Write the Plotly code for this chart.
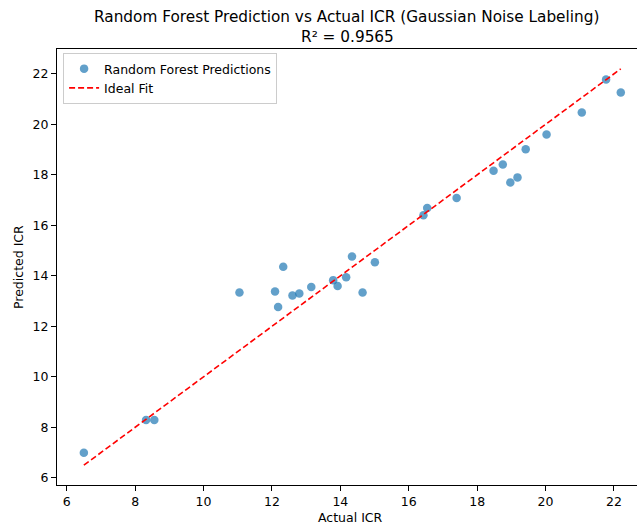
import plotly.graph_objects as go

actual = [6.50, 8.32, 8.56, 11.05, 12.09, 12.18, 12.33, 12.60, 12.80, 13.15,
          13.79, 13.92, 14.17, 14.34, 14.65, 15.01, 16.43, 16.54, 17.40, 18.48,
          18.75, 18.97, 19.18, 19.42, 20.03, 21.06, 21.77, 22.20]
predicted = [6.99, 8.29, 8.29, 13.34, 13.38, 12.77, 14.36, 13.22, 13.30, 13.56,
             13.83, 13.60, 13.94, 14.77, 13.34, 14.54, 16.40, 16.69, 17.08, 18.16,
             18.41, 17.70, 17.90, 19.01, 19.60, 20.47, 21.78, 21.26]
r2 = 0.9565
ticks = [6, 8, 10, 12, 14, 16, 18, 20, 22]

lo, hi = min(actual), max(actual)

fig = go.Figure()
fig.add_trace(go.Scatter(
    x=actual, y=predicted, mode="markers", name="Random Forest Predictions",
    marker=dict(color="#1f77b4", size=8.5, opacity=0.7, line=dict(width=0))))
fig.add_trace(go.Scatter(
    x=[lo, hi], y=[lo, hi], mode="lines", name="Ideal Fit",
    line=dict(color="red", dash="6px,3px", width=1.6)))

font = "DejaVu Sans"
H = 436.0  # plot height px
def py(p):
    return 1 + (49 - p) / H

title_font = dict(family=font, size=15.3, color="black")
label_font = dict(family=font, size=12.5, color="black")
annotations = [
    dict(text="Random Forest Prediction vs Actual ICR (Gaussian Noise Labeling)",
         x=(346 - 57) / 580, xref="paper", y=py(17), yref="paper", xanchor="center",
         yanchor="middle", showarrow=False, font=title_font),
    dict(text=f"R² = {r2:.4f}", x=(348 - 57) / 580, xref="paper", y=py(37), yref="paper",
         xanchor="center", yanchor="middle", showarrow=False, font=title_font),
    dict(text="Actual ICR", x=(350 - 57) / 580, xref="paper", y=py(517), yref="paper",
         xanchor="center", yanchor="middle", showarrow=False, font=label_font),
    dict(text="Predicted ICR", x=(18 - 57) / 580, xref="paper", y=py(267), yref="paper",
         xanchor="center", yanchor="middle", showarrow=False, font=label_font,
         textangle=-90),
]

fig.update_layout(
    width=637, height=528,
    margin=dict(l=57, r=0, t=49, b=43),
    plot_bgcolor="white", paper_bgcolor="white",
    font=dict(family=font, size=12.5, color="black"),
    annotations=annotations,
    legend=dict(x=0.0105, y=py(53), xanchor="left", yanchor="top",
                bgcolor="rgba(255,255,255,0.8)", bordercolor="#cccccc", borderwidth=1,
                font=dict(family=font, size=12.5, color="black"),
                tracegroupgap=0, itemwidth=30),
    showlegend=True,
)
fig.update_xaxes(range=[5.715, 22.674], tickvals=ticks, showgrid=False, zeroline=False,
                 showline=True, linecolor="black", linewidth=1, mirror=True,
                 ticks="outside", ticklen=5, tickcolor="black", tickwidth=1,
                 tickfont=label_font)
fig.update_yaxes(range=[5.715, 22.985], tickvals=ticks, showgrid=False, zeroline=False,
                 showline=True, linecolor="black", linewidth=1,
                 ticks="outside", ticklen=5, tickcolor="black", tickwidth=1,
                 tickfont=label_font)

fig.write_html("out.html")
